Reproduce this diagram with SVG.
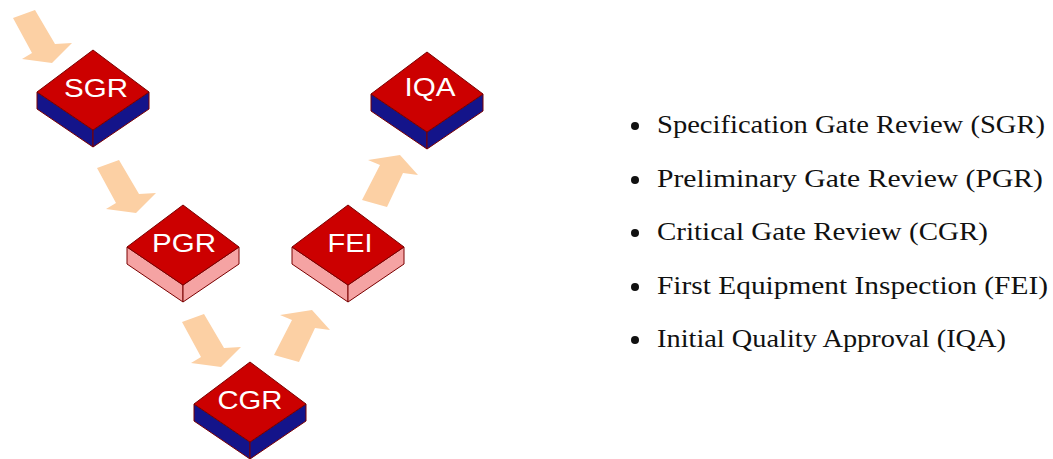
<svg xmlns="http://www.w3.org/2000/svg" width="1053" height="459" viewBox="0 0 1053 459">
<style>
.top{fill:#cc0000;stroke:#7a0000;stroke-width:1;stroke-linejoin:round}
.navy{fill:#14148a;stroke:#7a0000;stroke-width:1;stroke-linejoin:round}
.pink{fill:#f5a3a3;stroke:#7a0000;stroke-width:1;stroke-linejoin:round}
.lbl{font-family:"Liberation Sans",Arial,sans-serif;font-size:25px;fill:#ffffff;text-anchor:middle}
.arrow{fill:#fcd0a4}
.item{font-family:"Liberation Serif","Times New Roman",serif;font-size:26px;fill:#111111}
.dot{fill:#111111}
</style>
<defs>
<polygon id="face" class="top" points="0,0 56,42 0,80 -56,42"/>
<path id="arrDown" d="M0,0 L22,-8 L42,26 L59,25 L39,45 L9,41 L19,35 Z"/>
<path id="arrUp" d="M0,0 L18,-35 L6,-40 L38,-45 L56,-25 L41,-27 L25,7 Z"/>
</defs>
<g id="connectors">
<use href="#arrDown" class="arrow" transform="translate(13,18)"/>
<use href="#arrDown" class="arrow" transform="translate(97,168)"/>
<use href="#arrDown" class="arrow" transform="translate(182,322)"/>
<use href="#arrUp" class="arrow" transform="translate(274,355)"/>
<use href="#arrUp" class="arrow" transform="translate(362,200)"/>
</g>
<g id="node-sgr" transform="translate(93,50)">
<polygon class="navy" points="-56,42 0,80 0,97 -56,59"/>
<polygon class="navy" points="56,42 0,80 0,97 56,59"/>
<use href="#face"/>
<text class="lbl" x="3" y="47" textLength="64" lengthAdjust="spacingAndGlyphs">SGR</text>
</g>
<g id="node-pgr" transform="translate(183,205)">
<polygon class="pink" points="-56,42 0,80 0,97 -56,59"/>
<polygon class="pink" points="56,42 0,80 0,97 56,59"/>
<use href="#face"/>
<text class="lbl" x="1" y="47" textLength="64" lengthAdjust="spacingAndGlyphs">PGR</text>
</g>
<g id="node-cgr" transform="translate(250,362)">
<polygon class="navy" points="-56,42 0,80 0,97 -56,59"/>
<polygon class="navy" points="56,42 0,80 0,97 56,59"/>
<use href="#face"/>
<text class="lbl" x="0" y="47" textLength="65" lengthAdjust="spacingAndGlyphs">CGR</text>
</g>
<g id="node-fei" transform="translate(348,205)">
<polygon class="pink" points="-56,42 0,80 0,97 -56,59"/>
<polygon class="pink" points="56,42 0,80 0,97 56,59"/>
<use href="#face"/>
<text class="lbl" x="2" y="47" textLength="45" lengthAdjust="spacingAndGlyphs">FEI</text>
</g>
<g id="node-iqa" transform="translate(427,52)">
<polygon class="navy" points="-56,42 0,80 0,97 -56,59"/>
<polygon class="navy" points="56,42 0,80 0,97 56,59"/>
<use href="#face"/>
<text class="lbl" x="3" y="44" textLength="51" lengthAdjust="spacingAndGlyphs">IQA</text>
</g>
<g id="legend">
<circle class="dot" cx="635" cy="126" r="4"/>
<text class="item" x="657" y="133" textLength="388" lengthAdjust="spacingAndGlyphs">Specification Gate Review (SGR)</text>
<circle class="dot" cx="635" cy="180" r="4"/>
<text class="item" x="657" y="187" textLength="386" lengthAdjust="spacingAndGlyphs">Preliminary Gate Review (PGR)</text>
<circle class="dot" cx="635" cy="233" r="4"/>
<text class="item" x="657" y="240" textLength="331" lengthAdjust="spacingAndGlyphs">Critical Gate Review (CGR)</text>
<circle class="dot" cx="635" cy="287" r="4"/>
<text class="item" x="657" y="294" textLength="391" lengthAdjust="spacingAndGlyphs">First Equipment Inspection (FEI)</text>
<circle class="dot" cx="635" cy="340" r="4"/>
<text class="item" x="657" y="347" textLength="349" lengthAdjust="spacingAndGlyphs">Initial Quality Approval (IQA)</text>
</g>
</svg>
